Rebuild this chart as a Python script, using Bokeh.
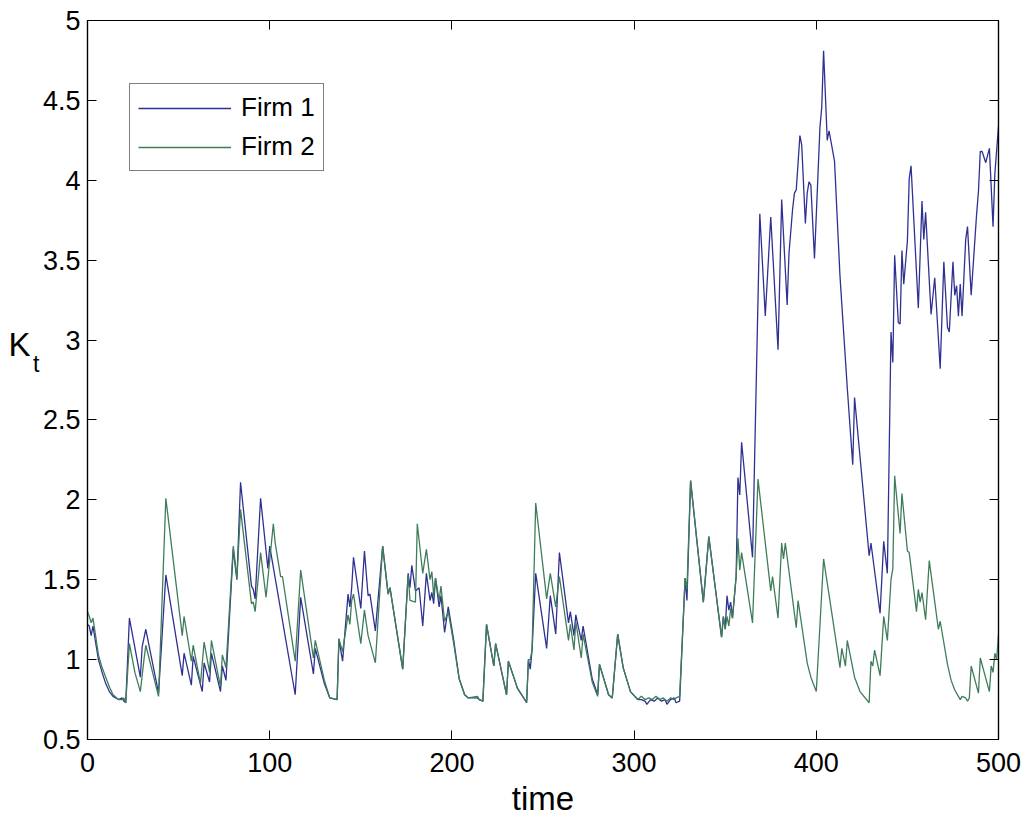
from bokeh.plotting import figure
from bokeh.models import Range1d, FixedTicker, LinearAxis, CustomLabelingPolicy
from bokeh.embed import file_html
from bokeh.resources import INLINE

# ---- data ----
firm1_t = [0, 1, 2, 3, 6, 8, 10, 12, 14, 17, 19, 20, 21, 23, 29, 30, 32, 39, 43, 52, 53, 57, 58, 63, 64, 67, 68, 73, 74, 76,
           80, 82, 84, 90, 91, 92, 95, 99, 100, 114, 117, 124, 125, 130, 133, 137, 138, 140, 143, 144, 145, 146, 150, 152,
           154, 155, 158, 162, 165, 166, 173, 176, 177, 178, 180, 182, 184, 186, 188, 189, 190, 191, 193, 194, 196, 198,
           201, 204, 207, 209, 214, 215, 217, 219, 223, 224, 230, 231, 236, 240, 241, 242, 243, 244, 246, 252, 254, 257,
           259, 264, 265, 267, 268, 271, 272, 277, 280, 281, 286, 288, 291, 294, 298, 302, 304, 306, 307, 309, 311, 313,
           315, 317, 318, 320, 322, 323, 325, 328, 329, 331, 338, 341, 348, 349, 350, 351, 352, 353, 354, 356, 357, 358,
           359, 365, 369, 372, 375, 379, 381, 384, 385, 387, 388, 389, 391, 392, 394, 395, 396, 397, 399, 402, 403, 404,
           406, 407, 410, 413, 417, 420, 421, 429, 430, 435, 437, 439, 441, 442, 443, 445, 446, 447, 448, 450, 451, 452,
           456, 458, 459, 460, 463, 465, 468, 470, 472, 473, 475, 476, 477, 478, 479, 480, 482, 483, 485, 488, 489, 490,
           491, 493, 495, 497, 498, 500]
firm1_k = [1.22, 1.21, 1.15, 1.21, 1.00, 0.92, 0.85, 0.80, 0.77, 0.75, 0.76, 0.74, 0.73, 1.26, 0.89, 1.08, 1.19, 0.79, 1.53,
           0.90, 1.04, 0.84, 1.02, 0.80, 0.98, 0.86, 1.04, 0.80, 0.96, 0.87,
           1.69, 1.50, 2.11, 1.46, 1.44, 1.38, 2.01, 1.57, 1.71, 0.78, 1.39, 0.91, 1.07, 0.85, 0.76, 0.75, 1.13, 0.99, 1.41,
           1.33, 1.45, 1.64, 1.32, 1.68,
           1.40, 1.41, 1.18, 1.71, 1.41, 1.45, 0.94, 1.54, 1.45, 1.59, 1.43, 1.45, 1.21, 1.54, 1.37, 1.42, 1.35, 1.51, 1.33,
           1.40, 1.17, 1.33,
           1.12, 0.88, 0.78, 0.76, 0.76, 0.75, 0.74, 1.22, 0.96, 1.10, 0.78, 0.99, 0.82, 0.75, 0.73, 1.00, 0.94, 1.06, 1.54,
           1.07, 1.40, 1.16,
           1.67, 1.23, 1.30, 1.15, 1.28, 1.12, 1.21, 0.88, 0.78, 0.97, 0.78, 0.76, 1.16, 0.95, 0.80, 0.75, 0.75, 0.74, 0.72,
           0.75, 0.74, 0.76,
           0.74, 0.75, 0.72, 0.75, 0.76, 0.73, 0.74, 1.51, 1.37, 2.12, 1.36, 1.77, 1.14, 1.27, 1.19, 1.40, 1.31, 1.36, 1.26,
           1.52, 2.14, 2.03,
           2.36, 1.64, 3.79, 3.15, 3.77, 2.94, 3.88, 3.22, 3.54, 3.82, 3.92, 3.94, 4.28, 4.22, 3.73, 3.92, 3.99, 3.97, 3.51,
           4.33, 4.46, 4.81,
           4.25, 4.31, 4.12, 3.40, 2.70, 2.22, 2.64, 1.65, 1.73, 1.29, 1.74, 1.54, 3.05, 2.86, 3.53, 3.11, 3.10, 3.56, 3.35,
           3.62, 4.01, 4.09,
           3.20, 3.87, 3.63, 3.80, 3.16, 3.39, 2.82, 3.49, 3.08, 3.05, 3.49, 3.28, 3.34, 3.15, 3.35, 3.15, 3.63, 3.71, 3.28,
           3.79, 3.93, 4.18,
           4.18, 4.11, 4.20, 3.71, 4.04, 4.34]

firm2_t = [0, 1, 2, 3, 6, 8, 10, 12, 14, 17, 19, 20, 21, 23, 26, 29, 31, 32, 39, 43, 52, 53, 57, 58, 62, 64, 67, 68, 73, 74,
           76, 80, 82, 84, 90, 91, 92, 95, 98, 102, 103, 106, 107, 114, 117, 124, 125, 130, 133, 137, 138, 140, 143, 144,
           145, 146, 150, 152, 154, 158, 162, 165, 166, 173, 176, 177, 180, 181, 184, 186, 188, 189, 190, 191, 193, 194,
           196, 198, 201, 204, 207, 209, 214, 215, 217, 219, 223, 224, 230, 231, 236, 240, 241, 242, 243, 244, 246, 252,
           254, 257, 259, 264, 265, 267, 268, 271, 272, 277, 280, 281, 286, 288, 291, 294, 298, 302, 304, 306, 308, 310,
           312, 314, 316, 318, 320, 322, 323, 325, 328, 329, 331, 338, 341, 348, 349, 350, 351, 352, 353, 354, 356, 357,
           358, 359, 365, 368, 375, 376, 379, 381, 382, 383, 389, 390, 395, 397, 400, 404, 408, 413, 414, 416, 417, 421,
           424, 429, 430, 431, 432, 435, 437, 439, 441, 442, 443, 446, 447, 450, 451, 455, 456, 457, 458, 460, 462, 467,
           468, 472, 474, 476, 479, 480, 482, 483, 484, 485, 489, 490, 495, 496, 497, 498, 499, 500]
firm2_k = [1.30, 1.27, 1.23, 1.26, 1.03, 0.95, 0.89, 0.83, 0.78, 0.75, 0.75, 0.76, 0.73, 1.10, 0.92, 0.80, 1.00, 1.09, 0.77,
           2.01, 1.15, 1.27, 0.99, 1.09, 0.85, 1.11, 0.92, 1.12, 0.83, 1.03,
           0.95, 1.71, 1.51, 1.94, 1.35, 1.36, 1.30, 1.67, 1.39, 1.85, 1.73, 1.52, 1.52, 0.99, 1.56, 1.01, 1.12, 0.87, 0.76,
           0.75, 1.13, 1.05, 1.28, 1.22,
           1.37, 1.41, 1.10, 1.31, 1.15, 0.98, 1.71, 1.41, 1.45, 0.94, 1.53, 1.37, 1.36, 1.85, 1.54, 1.69, 1.50, 1.55, 1.40,
           1.51, 1.37, 1.46,
           1.24, 1.30, 1.10, 0.88, 0.78, 0.76, 0.77, 0.75, 0.74, 1.22, 0.96, 1.10, 0.78, 0.99, 0.82, 0.75, 0.73, 1.00, 1.00,
           1.06, 1.98, 1.38,
           1.54, 1.33, 1.52, 1.12, 1.22, 1.06, 1.24, 1.01, 1.16, 0.86, 0.77, 0.97, 0.78, 0.76, 1.16, 0.95, 0.80, 0.75, 0.77,
           0.75, 0.76, 0.75,
           0.77, 0.75, 0.76, 0.74, 0.76, 0.75, 0.76, 0.77, 1.51, 1.44, 2.12, 1.36, 1.77, 1.14, 1.27, 1.19, 1.27, 1.21, 1.32,
           1.26, 1.52, 1.76,
           1.56, 1.67, 1.23, 2.13, 1.43, 1.52, 1.26, 1.73, 1.63, 1.73, 1.20, 1.37, 0.98, 0.89, 0.80, 1.63, 1.33, 0.95, 1.07,
           0.96, 1.12, 0.89,
           0.80, 0.73, 0.99, 0.96, 1.06, 0.90, 1.27, 1.12, 1.50, 1.57, 2.15, 1.79, 2.04, 1.68, 1.67, 1.30, 1.44, 1.36, 1.42,
           1.25, 1.62, 1.19,
           1.24, 0.97, 0.87, 0.81, 0.75, 0.77, 0.76, 0.74, 0.76, 0.96, 0.79, 1.01, 0.80, 0.96, 0.92, 1.04, 1.00, 1.16]

x_ticks = [0, 100, 200, 300, 400, 500]
y_ticks = [0.5, 1, 1.5, 2, 2.5, 3, 3.5, 4, 4.5, 5]
y_tick_labels = ["0.5", "1", "1.5", "2", "2.5", "3", "3.5", "4", "4.5", "5"]
series_names = ["Firm 1", "Firm 2"]
series_colors = ["#2E3192", "#3F7D5A"]

FONT = "Liberation Sans"

p = figure(width=1029, height=820, output_backend="svg", toolbar_location=None,
           x_range=Range1d(0, 500), y_range=Range1d(0.5, 5),
           min_border_left=87, min_border_right=31, min_border_top=20, min_border_bottom=81)
p.background_fill_color = "white"
p.border_fill_color = "white"
p.grid.visible = False
p.outline_line_color = "black"
p.outline_line_width = 1.2

p.line(firm1_t, firm1_k, line_color=series_colors[0], line_width=1.3, legend_label=series_names[0])
p.line(firm2_t, firm2_k, line_color=series_colors[1], line_width=1.3, legend_label=series_names[1])

xa = p.xaxis[0]
ya = p.yaxis[0]
xa.ticker = FixedTicker(ticks=x_ticks)
ya.ticker = FixedTicker(ticks=y_ticks)
ya.major_label_overrides = {v: s for v, s in zip(y_ticks, y_tick_labels)}
for ax in (xa, ya):
    ax.major_tick_in = 9
    ax.major_tick_out = 0
    ax.minor_tick_in = 0
    ax.minor_tick_out = 0
    ax.axis_line_color = "black"
    ax.axis_line_width = 1.2
    ax.major_tick_line_color = "black"
    ax.major_label_text_font = FONT
    ax.major_label_text_font_size = "27px"
    ax.major_label_text_color = "black"
xa.major_label_standoff = 13
ya.major_label_standoff = 7
xa.axis_label = "time"
xa.axis_label_text_font = FONT
xa.axis_label_text_font_size = "33px"
xa.axis_label_text_font_style = "normal"
xa.axis_label_text_color = "black"
xa.axis_label_standoff = 5

# y label "K" with subscript "t", drawn horizontally left of the tick labels
for txt, pos, size, standoff in (("t", 2.85, "23px", 0), ("K", 2.97, "33px", 0)):
    lab = LinearAxis(ticker=FixedTicker(ticks=[pos], minor_ticks=[]))
    lab.major_label_overrides = {pos: txt}
    lab.major_label_text_font = FONT
    lab.major_label_text_font_size = size
    lab.major_label_text_color = "black"
    lab.major_label_standoff = standoff
    lab.major_tick_in = 0
    lab.major_tick_out = 0
    lab.minor_tick_in = 0
    lab.minor_tick_out = 0
    lab.axis_line_color = None
    lab.major_tick_line_color = None
    p.add_layout(lab, "left")

# box ticks on right and top (inward, no labels)
no_labels = CustomLabelingPolicy(code="""
try { for (const i of Array.from(indices)) { indices.unset(i) } } catch (e) {}
return indices
""")
for loc, tk in (("right", y_ticks), ("above", x_ticks)):
    ax = LinearAxis(ticker=FixedTicker(ticks=tk, minor_ticks=[]))
    ax.major_tick_in = 9
    ax.major_tick_out = 0
    ax.minor_tick_in = 0
    ax.minor_tick_out = 0
    ax.major_label_policy = no_labels
    ax.major_label_text_font_size = "0px"
    ax.major_label_standoff = 0
    ax.axis_line_color = "black"
    ax.axis_line_width = 1.2
    p.add_layout(ax, loc)

lg = p.legend[0]
lg.location = (42, 568)
lg.border_line_color = "black"
lg.border_line_width = 1.2
lg.background_fill_color = "white"
lg.background_fill_alpha = 1
lg.padding = 8
lg.spacing = 8
lg.margin = 0
lg.glyph_width = 93
lg.glyph_height = 26
lg.label_height = 26
lg.label_standoff = 10
lg.label_text_font = FONT
lg.label_text_font_size = "26px"
lg.label_text_color = "black"

open("out.html", "w").write(file_html(p, INLINE))
